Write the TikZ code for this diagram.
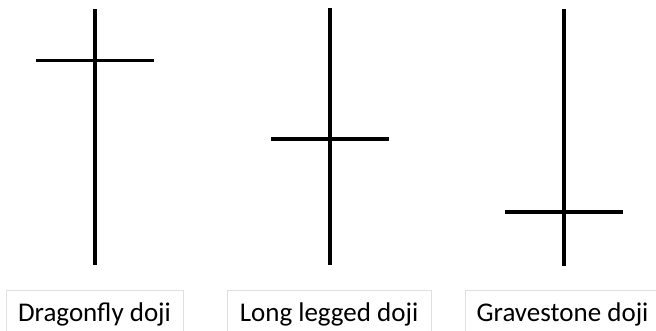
\documentclass[tikz,border=0pt]{standalone}
\usepackage{fontspec}
\setmainfont{Carlito}
\begin{document}
\begin{tikzpicture}[x=1pt, y=-1pt, line width=3.2pt,
    label box/.style={draw=gray!25, line width=0.8pt, inner sep=0pt, anchor=base,
      text height=31pt, text depth=20pt, font=\fontsize{27}{32}\selectfont}]
    \useasboundingbox (0,0) rectangle (656,330);
    \clip (0,0) rectangle (656,330);

    % Dragonfly doji
    \coordinate (dTop) at (95,9);
    \coordinate (dBot) at (95,265);
    \coordinate (dL) at (36,60.5);
    \coordinate (dR) at (154,60.5);
    \draw (dTop) -- (dBot);
    \draw (dL) -- (dR);

    % Long legged doji
    \coordinate (lTop) at (330,8);
    \coordinate (lBot) at (330,265);
    \coordinate (lL) at (271,139);
    \coordinate (lR) at (389,139);
    \draw (lTop) -- (lBot);
    \draw (lL) -- (lR);

    % Gravestone doji
    \coordinate (gTop) at (564,9);
    \coordinate (gBot) at (564,266);
    \coordinate (gL) at (505,212);
    \coordinate (gR) at (623,212);
    \draw (gTop) -- (gBot);
    \draw (gL) -- (gR);

    % Labels
    \node[label box, minimum width=177pt] (dragonfly) at (94.5,321.7) {Dragonfly doji};
    \node[label box, minimum width=204pt] (longlegged) at (329,321.7) {Long legged doji};
    \node[label box, minimum width=195pt] (gravestone) at (562.5,321.7) {Gravestone doji};
\end{tikzpicture}
\end{document}
